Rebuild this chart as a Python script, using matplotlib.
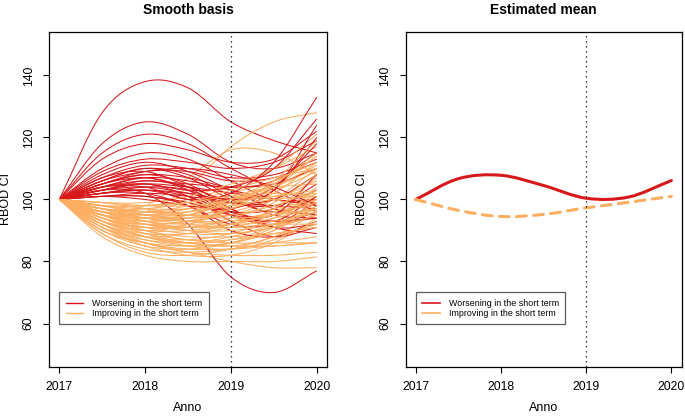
# Smooth basis curves and estimated group means (RBOD CI)

import numpy as np
import matplotlib.pyplot as plt
from matplotlib.path import Path
from matplotlib.patches import PathPatch
from matplotlib.lines import Line2D

plt.rcParams['font.family'] = ['Liberation Sans', 'DejaVu Sans']

years = [2017, 2017.5, 2018, 2018.5, 2019, 2019.5, 2020]

# individual curves, "worsening in the short term"
red_curves = [
    [100, 128, 138, 136, 125, 119, 115],
    [100, 118, 125, 121, 112, 110, 115],
    [100, 115, 121, 118, 110, 103, 96],
    [100, 113, 118, 116, 112, 113, 122],
    [100, 110, 115, 113, 106, 100, 100],
    [100, 109, 113, 112, 110, 112, 119],
    [100, 108, 112, 109, 103, 97, 95],
    [100, 107, 111, 110, 107, 108, 113],
    [100, 106, 110, 108, 101, 95, 94],
    [100, 106, 110, 107, 100, 96, 100],
    [100, 105, 109, 109, 106, 107, 112],
    [100, 105, 108, 105, 97, 91, 92],
    [100, 105, 108, 107, 104, 106, 115],
    [100, 104, 107, 106, 103, 100, 99],
    [100, 104, 107, 103, 95, 92, 96],
    [100, 104, 106, 105, 104, 105, 110],
    [100, 103, 106, 104, 99, 98, 103],
    [100, 103, 105, 101, 93, 88, 91],
    [100, 103, 105, 104, 102, 100, 98],
    [100, 103, 104, 102, 99, 100, 108],
    [100, 102, 104, 103, 97, 91, 89],
    [100, 102, 103, 100, 96, 97, 105],
    [100, 102, 103, 102, 100, 103, 124],
    [100, 102, 102, 98, 92, 92, 99],
    [100, 101, 102, 101, 99, 98, 97],
    [100, 101, 101, 98, 90, 88, 93],
    [100, 103, 102, 92, 75, 70, 77],
    [100, 104, 104, 100, 102, 112, 133],
    [100, 101, 100, 98, 97, 103, 120],
    [100, 102, 103, 101, 96, 95, 108],
    [100, 107, 109, 104, 96, 93, 101],
    [100, 106, 109, 110, 108, 104, 98],
    [100, 101, 101, 99, 95, 93, 94],
    [100, 104, 105, 103, 104, 110, 126],
    [100, 105, 107, 104, 100, 104, 118],
]

# individual curves, "improving in the short term"
orange_curves = [
    [100, 95, 96, 104, 117, 125, 128],
    [100, 96, 98, 107, 116, 115, 108],
    [100, 90, 86, 83, 80, 78, 78],
    [100, 88, 82, 80, 80, 80, 81.5],
    [100, 92, 88, 86, 85, 88, 96],
    [100, 94, 92, 93, 95, 100, 110],
    [100, 97, 96, 98, 102, 106, 112],
    [100, 93, 89, 87, 86, 86, 86],
    [100, 91, 85, 82, 82, 86, 94],
    [100, 96, 94, 94, 96, 100, 106],
    [100, 98, 98, 100, 104, 110, 121],
    [100, 95, 92, 91, 92, 95, 101],
    [100, 92, 87, 85, 86, 90, 98],
    [100, 97, 95, 95, 97, 102, 112],
    [100, 94, 90, 88, 88, 89, 91],
    [100, 96, 93, 92, 93, 96, 103],
    [100, 98, 97, 97, 99, 103, 109],
    [100, 93, 88, 86, 87, 92, 104],
    [100, 95, 93, 94, 98, 104, 114],
    [100, 89, 84, 83, 84, 86, 88],
    [100, 97, 94, 92, 91, 92, 94],
    [100, 94, 91, 91, 93, 96, 99],
    [100, 99, 99, 101, 105, 110, 117],
    [100, 92, 88, 87, 89, 94, 102],
    [100, 96, 95, 97, 101, 104, 105],
    [100, 91, 86, 84, 84, 85, 86],
    [100, 95, 91, 89, 89, 91, 95],
    [100, 98, 96, 95, 95, 97, 100],
    [100, 93, 90, 90, 92, 97, 107],
    [100, 97, 96, 97, 100, 105, 114],
    [100, 90, 85, 84, 86, 91, 99],
    [100, 95, 94, 96, 100, 102, 101],
    [100, 99, 97, 95, 94, 95, 97],
    [100, 94, 89, 86, 85, 85, 86],
    [100, 96, 92, 90, 90, 92, 96],
    [100, 92, 89, 89, 91, 94, 97],
    [100, 97, 97, 99, 103, 107, 110],
    [100, 93, 88, 85, 84, 87, 93],
    [100, 98, 95, 93, 92, 93, 96],
    [100, 95, 90, 87, 87, 90, 98],
    [100, 96, 94, 95, 99, 105, 115],
    [100, 91, 87, 86, 88, 92, 97],
    [100, 94, 92, 93, 97, 101, 103],
    [100, 97, 95, 94, 95, 98, 103],
    [100, 89, 83, 82, 84, 88, 92],
    [100, 95, 93, 95, 100, 106, 112],
    [100, 98, 96, 96, 98, 100, 101],
    [100, 93, 91, 91, 94, 99, 108],
    [100, 96, 93, 91, 92, 95, 99],
    [100, 92, 86, 83, 82, 82, 83],
    [100, 97, 94, 93, 93, 95, 100],
    [100, 94, 91, 92, 97, 104, 111],
    [100, 99, 98, 98, 100, 104, 110],
    [100, 90, 86, 85, 86, 89, 91],
    [100, 95, 92, 91, 91, 92, 92],
    [100, 96, 95, 96, 99, 101, 102],
    [100, 98, 98, 99, 101, 100, 96],
    [100, 93, 90, 92, 98, 106, 119],
    [100, 91, 88, 89, 92, 95, 97],
    [100, 97, 93, 90, 89, 91, 95],
]

# estimated group means
mean_worse = [100, 106.7, 107.8, 104.5, 100.4, 100.8, 106.1]
mean_improve = [100, 96.5, 94.5, 95.2, 97.3, 99.1, 101.0]

labels = ['Worsening in the short term', 'Improving in the short term']
red = '#D7191C'
orange = '#FDAE61'


def smooth_path(x, y):
    # Catmull-Rom through the points, drawn as cubic bezier segments
    x = np.asarray(x, float)
    y = np.asarray(y, float)
    px = np.concatenate([[2*x[0] - x[1]], x, [2*x[-1] - x[-2]]])
    py = np.concatenate([[2*y[0] - y[1]], y, [2*y[-1] - y[-2]]])
    verts = [(x[0], y[0])]
    codes = [Path.MOVETO]
    for i in range(1, len(px) - 2):
        c1 = (px[i] + (px[i+1] - px[i-1])/6, py[i] + (py[i+1] - py[i-1])/6)
        c2 = (px[i+1] - (px[i+2] - px[i])/6, py[i+1] - (py[i+2] - py[i])/6)
        verts += [c1, c2, (px[i+1], py[i+1])]
        codes += [Path.CURVE4]*3
    return Path(verts, codes)


def draw_curve(ax, y, **kw):
    ax.add_patch(PathPatch(smooth_path(years, y), fill=False, **kw))


def setup(ax, title):
    ax.set_xlim(2016.88, 2020.12)
    ax.set_ylim(46, 154)
    ax.set_xticks([2017, 2018, 2019, 2020])
    ax.set_yticks([60, 80, 100, 120, 140])
    ax.tick_params(length=4.3, width=0.8, pad=6, labelsize=8.8)
    for lab in ax.get_yticklabels():
        lab.set_rotation(90)
        lab.set_va('center')
    for s in ax.spines.values():
        s.set_linewidth(0.9)
    ax.axvline(2019, color='black', linestyle=(0, (1, 3)), linewidth=0.9)
    ax.set_title(title, fontsize=10, fontweight='bold', pad=13)
    ax.set_xlabel('Anno', fontsize=9, labelpad=6)
    ax.set_ylabel('RBOD CI', fontsize=9, labelpad=8)


def add_legend(ax, styles):
    handles = [Line2D([], [], color=red, **styles[0]),
               Line2D([], [], color=orange, **styles[1])]
    leg = ax.legend(handles, labels, loc='upper left',
                    bbox_to_anchor=(2017, 70), bbox_transform=ax.transData,
                    borderaxespad=0, fontsize=6.4, frameon=True, fancybox=False,
                    edgecolor='#333333', handlelength=2.0, handletextpad=1.0,
                    borderpad=0.7, labelspacing=0.15)
    leg.get_frame().set_linewidth(0.9)


fig = plt.figure(figsize=(6.85, 4.16), dpi=100)
ax1 = fig.add_axes([0.0715, 0.118, 0.406, 0.805])
ax2 = fig.add_axes([0.592, 0.118, 0.403, 0.805])

setup(ax1, 'Smooth basis')
n = max(len(red_curves), len(orange_curves))
for i in range(n):
    if i < len(red_curves):
        draw_curve(ax1, red_curves[i], edgecolor=red, linewidth=0.75)
    if i < len(orange_curves):
        draw_curve(ax1, orange_curves[i], edgecolor=orange, linewidth=0.75)
add_legend(ax1, [dict(linewidth=1), dict(linewidth=1)])

setup(ax2, 'Estimated mean')
draw_curve(ax2, mean_worse, edgecolor=red, linewidth=2.2, capstyle='round')
draw_curve(ax2, mean_improve, edgecolor=orange, linewidth=2.2,
           linestyle=(0, (3.2, 2.4)), capstyle='round')
add_legend(ax2, [dict(linewidth=1.2), dict(linewidth=1.2)])

fig.savefig('out.png', dpi=100)
